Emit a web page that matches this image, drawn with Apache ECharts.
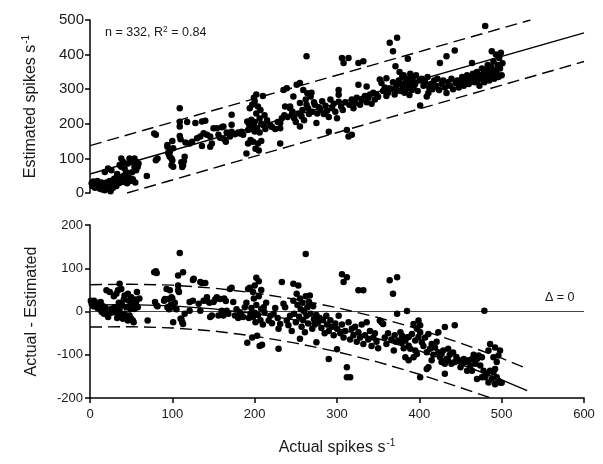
<!DOCTYPE html>
<html>
<head>
<meta charset="utf-8">
<script src="https://cdn.jsdelivr.net/npm/echarts@6/dist/echarts.min.js"></script>
<style>
html,body{margin:0;padding:0;background:#fff;}
#chart{width:603px;height:464px;}
</style>
</head>
<body>
<div id="chart"></div>
<script>
// ---- Top panel: actual vs estimated ----
var topPoints = [
[2,28],[3,20],[4,33],[5,22],[6,15],[7,30],[8,25],[9,35],[10,18],[11,28],[12,12],[13,22],[14,30],[15,10],[16,25],[18,8],[19,18],[20,30],[22,12],[23,20],[24,35],[25,5],[26,22],[27,28],[28,15],[29,40],
[18,61],[22,71],[26,66],[30,42],[31,30],[32,20],[33,55],[34,35],[35,28],[36,81],[37,45],[38,76],[38,100],[39,32],[40,90],[41,50],[42,71],[43,38],[44,60],[45,28],[46,85],[47,45],[48,100],[49,35],[50,90],[51,60],[52,40],[54,100],[54,76],[55,30],[56,90],[56,66],[58,76],[59,85],
[69,49],[78,172],[80,168],[80,95],[82,100],[94,139],[94,134],[95,116],[96,110],[97,105],[97,119],[99,100],[99,80],[101,76],[100,94],[101,129],[100,150],[109,245],[109,206],[109,192],[109,165],[110,155],[111,89],[112,85],[113,80],[115,105],[114,92],[116,146],[118,205],[112,75],
[121,143],[124,148],[128,202],[130,158],[134,163],[136,136],[136,207],[138,173],[140,209],[142,168],[146,163],[146,134],[148,143],[150,187],[154,187],[156,168],[158,160],[160,190],[162,192],[163,155],[165,148],[166,175],[170,163],[172,177],[172,197],[172,226],[176,170],[180,175],[182,172],[184,177],[186,168],
[190,114],[191,207],[192,182],[192,143],[193,200],[194,245],[194,190],[195,153],[196,185],[196,212],[197,255],[198,195],[198,148],[199,275],[200,265],[200,205],[200,178],[201,128],[202,285],[202,230],[203,188],[204,250],[204,143],[205,123],[206,215],[206,175],[207,240],[208,200],[208,150],[210,280],[211,195],[212,225],[213,185],[215,210],
[219,196],[221,191],[225,185],[228,205],[231,202],[231,187],[231,143],[233,216],[235,298],[236,225],[237,250],[239,303],[240,220],[243,245],[243,250],[245,226],[246,235],[247,279],[248,216],[250,205],
[251,313],[253,230],[255,318],[255,192],[255,260],[257,221],[258,240],[259,298],[260,210],[262,270],[263,395],[263,255],[264,288],[265,245],[266,228],[268,279],[269,290],[270,235],[272,262],[273,255],[275,202],[276,230],[278,248],[280,240],[282,265],[284,228],[286,252],[288,238],[290,177],[290,220],[292,270],[294,245],[296,258],[298,235],[300,216],[302,298],[302,284],[302,264],
[305,250],[306,390],[307,240],[308,376],[310,262],[312,182],[314,390],[314,163],[315,255],[318,168],[318,270],[320,245],[322,260],[324,275],[326,376],[326,313],[328,255],[330,268],[332,381],[334,280],[336,308],[336,262],[338,275],[340,285],[342,258],[344,290],[346,270],[348,285],[350,278],
[352,328],[354,318],[356,295],[358,305],[360,332],[360,280],[362,290],[364,303],[364,434],[366,300],[368,410],[368,320],[370,285],[371,366],[372,310],[373,449],[373,298],[375,325],[376,350],[377,295],[378,315],[379,335],[380,305],[381,340],[382,290],[383,320],[384,300],[385,330],[386,388],[387,310],[388,283],[389,345],[390,318],[391,298],[392,330],[393,305],[395,315],[396,340],[398,295],[400,325],
[401,253],[403,330],[405,310],[407,320],[409,279],[410,335],[411,289],[412,305],[414,315],[416,300],[418,325],[420,310],[422,330],[424,298],[425,376],[427,315],[429,325],[431,305],[433,289],[433,395],[435,320],[437,310],[439,330],[441,300],[443,412],[444,318],[446,325],[448,305],
[450,320],[452,335],[454,310],[456,325],[458,340],[460,315],[462,330],[464,376],[465,345],[467,320],[468,335],[470,350],[471,325],[473,310],[474,340],[476,360],[477,330],[478,345],[479,320],[480,483],[481,355],[482,335],[483,370],[484,340],[485,325],[486,350],[487,365],[488,410],[489,340],[490,380],[491,330],[492,355],[493,400],[494,345],[495,370],[496,335],[497,390],[498,360],[499,405],[500,340],[501,375]
];
var topFit = [[0,55],[600,463]];
var topUpper = [[0,137],[535,500]];
var topLower = [[45,0],[600,380]];
var topYTicks = [0,100,200,300,400,500];

// ---- Bottom panel: residuals ----
var bottomPoints = [
[1,25],[2,18],[3,22],[4,12],[5,25],[6,15],[8,20],[9,8],[10,10],[11,18],[12,5],[13,22],[14,0],[15,-2],[16,12],[17,-5],[18,2],[19,8],[20,49],[21,-8],[22,-13],[24,45],[25,-3],[26,6],[28,-2],[29,35],[30,10],[32,2],[32,41],[33,-15],[34,-9],[34,49],[35,20],[36,6],[36,64],[37,-5],[38,-13],[38,52],[39,15],[40,-17],[41,28],[42,-5],[42,37],[44,10],[45,-12],[46,-21],[46,41],[47,25],[48,-9],[49,5],[50,-17],[50,33],[51,18],[52,-21],[53,-25],[54,6],[55,28],[56,22],[57,45],[58,10],[60,30],
[70,-21],[78,91],[80,93],[81,89],[79,22],[81,14],[82,12],[90,25],[91,29],[93,52],[94,10],[95,29],[96,5],[97,49],[98,15],[99,33],[100,30],[101,-25],[101,10],[103,20],[105,5],[107,83],[107,60],[107,49],[108,45],[109,135],[110,-17],[111,-17],[112,-25],[113,91],[113,-29],[115,-5],[121,22],[121,2],[125,73],[125,25],
[126,76],[132,18],[134,68],[134,2],[136,66],[138,25],[140,66],[142,25],[142,33],[145,20],[146,-13],[148,-9],[150,22],[152,28],[154,33],[156,-9],[158,29],[160,2],[162,-9],[163,30],[165,24],[166,2],[168,-5],[170,52],[172,55],[174,22],[176,-9],[178,5],[180,-15],[182,-2],[184,-9],[186,-13],[188,10],
[190,20],[191,-72],[192,52],[193,-15],[194,55],[195,-5],[196,8],[197,-60],[198,45],[198,-12],[199,30],[200,60],[200,-3],[201,-25],[202,78],[202,15],[203,-56],[204,-8],[205,70],[205,35],[206,-80],[207,-20],[208,50],[208,5],[209,-77],[210,-30],[211,10],[212,-2],[214,20],
[217,-21],[219,-10],[221,-27],[223,-5],[225,8],[228,-15],[229,-40],[229,-86],[231,-29],[233,68],[235,18],[237,10],[239,-21],[241,-32],[243,-10],[245,-45],[247,64],[247,25],[248,-5],[250,-25],
[251,41],[252,15],[253,60],[254,-12],[255,-63],[255,30],[256,5],[257,-35],[258,20],[259,-20],[260,0],[261,-48],[262,133],[262,35],[263,-10],[264,10],[265,-28],[266,22],[267,37],[268,-5],[270,-40],[271,12],[272,-18],[273,-30],[275,-71],[275,-8],[277,-25],[279,-15],[281,-38],[283,-20],[285,-50],[287,-10],[288,-30],[290,-110],[290,-45],[292,-20],[294,-35],[296,-55],[298,-28],[300,-87],[300,-40],
[302,-10],[304,-50],[306,86],[306,-30],[308,68],[308,-60],[310,-45],[312,79],[312,-129],[312,-152],[314,-25],[316,-152],[316,-65],[318,-40],[320,-55],[322,-35],[324,-70],[326,49],[326,-48],[328,-60],[330,-30],[332,49],[332,-75],[334,-55],[336,-25],[338,-65],[340,-45],[342,-80],[344,-60],[346,-50],[348,-70],[350,-85],
[352,-21],[354,-25],[356,-29],[358,-60],[360,-75],[362,-50],[364,72],[366,-65],[368,41],[369,-90],[370,-55],[372,-70],[373,79],[373,-5],[375,-67],[377,-48],[379,-56],[379,-71],[381,-85],[383,-67],[383,-106],[385,1],[385,-60],[387,-59],[387,-79],[387,-113],[389,-86],[391,-52],[393,-29],[393,-106],[395,-67],[395,-90],[397,-40],[397,-98],[399,-21],[399,-59],[401,-32],[401,-48],[401,-152],
[403,-71],[405,-80],[407,-60],[409,-94],[409,-133],[411,-52],[411,-129],[413,-86],[415,-75],[415,-113],[417,-100],[419,-83],[421,-70],[423,-48],[423,-94],[425,-105],[427,-98],[427,-117],[429,-90],[431,-36],[431,-121],[431,-144],[433,-110],[435,-86],[435,-113],[437,-100],[439,-121],[441,-95],[443,-32],[443,-117],[445,-105],[448,-113],[450,-129],
[452,-120],[454,-110],[456,-117],[458,-137],[460,-113],[462,-125],[464,-137],[464,-110],[466,-100],[468,-121],[470,-110],[470,-156],[472,-102],[474,-125],[476,-106],[476,-152],[478,-137],[479,2],[480,-152],[482,-144],[484,-90],[484,-164],[486,-75],[486,-137],[488,-156],[490,-106],[490,-141],[492,-83],[492,-133],[492,-168],[494,-117],[494,-152],[496,-102],[496,-160],[498,-90],[498,-164],[500,-165]
];
var bottomFit = [[0,15],[50,16],[100,13],[150,6],[200,-5],[250,-20],[300,-40],[350,-63],[400,-91],[450,-122],[500,-158],[531,-183]];
var bottomUpper = [[0,62],[50,63],[100,61],[150,54],[200,43],[250,28],[300,9],[350,-14],[400,-41],[450,-73],[500,-108],[531,-132]];
var bottomLower = [[0,-36],[50,-35],[100,-38],[150,-45],[200,-57],[250,-73],[300,-93],[350,-117],[400,-145],[450,-176],[487,-200]];
var zeroLine = [[0,0],[600,0]];
var xTicks = [0,100,200,300,400,500,600];
var bottomYTicks = [-200,-100,0,100,200];

var FONT = 'Liberation Sans, Arial, sans-serif';
var TXT = '#1a1a1a';

var chart = echarts.init(document.getElementById('chart'), null, {renderer:'canvas'});

function lineSeries(data, xi, dashed, color, width) {
  return {
    type: 'line', xAxisIndex: xi, yAxisIndex: xi, data: data,
    symbol: 'none', silent: true, z: 3,
    lineStyle: {color: color || '#000', width: width || 1.4, type: dashed ? [12, 6] : 'solid'}
  };
}

var supStyle = {fontSize: 10, fontFamily: FONT, color: TXT, verticalAlign: 'top', padding: [0,0,9,1]};

var option = {
  animation: false,
  backgroundColor: '#fff',
  grid: [
    {left: 90, top: 20, width: 494, height: 173},
    {left: 90, top: 225, width: 494, height: 173}
  ],
  xAxis: [
    {gridIndex: 0, type: 'value', min: xTicks[0], max: xTicks[xTicks.length-1], interval: 100, show: false},
    {gridIndex: 1, type: 'value', min: xTicks[0], max: xTicks[xTicks.length-1], interval: 100,
     axisLine: {show: true, onZero: false, lineStyle: {color: '#000', width: 1.5}},
     axisTick: {show: true, length: 5, lineStyle: {color: '#000', width: 1.5}},
     axisLabel: {color: TXT, fontSize: 13, fontFamily: FONT, margin: 10},
     splitLine: {show: false},
     name: 'Actual spikes s{sup|-1}', nameLocation: 'middle', nameGap: 40,
     nameTextStyle: {color: TXT, fontSize: 16, fontFamily: FONT, rich: {sup: supStyle}}
    }
  ],
  yAxis: [
    {gridIndex: 0, type: 'value', min: topYTicks[0], max: topYTicks[topYTicks.length-1], interval: 100,
     axisLine: {show: true, lineStyle: {color: '#000', width: 1.5}},
     axisTick: {show: true, length: 5, lineStyle: {color: '#000', width: 1.5}},
     axisLabel: {color: TXT, fontSize: 15, fontFamily: FONT, margin: 6},
     splitLine: {show: false},
     name: 'Estimated spikes s{sup|-1}', nameLocation: 'middle', nameGap: 50,
     nameTextStyle: {color: TXT, fontSize: 16, fontFamily: FONT, rich: {sup: supStyle}}
    },
    {gridIndex: 1, type: 'value', min: bottomYTicks[0], max: bottomYTicks[bottomYTicks.length-1], interval: 100,
     axisLine: {show: true, onZero: false, lineStyle: {color: '#000', width: 1.5}},
     axisTick: {show: true, length: 5, lineStyle: {color: '#000', width: 1.5}},
     axisLabel: {color: TXT, fontSize: 13, fontFamily: FONT, margin: 7},
     splitLine: {show: false},
     name: 'Actual - Estimated', nameLocation: 'middle', nameGap: 50,
     nameTextStyle: {color: TXT, fontSize: 16, fontFamily: FONT}
    }
  ],
  graphic: [
    {type: 'text', left: 105, top: 25, z: 10,
     style: {text: 'n = 332, R{sup|2} = 0.84', fill: TXT, font: '12.5px ' + FONT,
       rich: {sup: {fontSize: 8.5, fontFamily: FONT, fill: TXT, verticalAlign: 'top', padding: [0,0,7,0]}}}},
    {type: 'text', left: 545, top: 291, z: 10,
     style: {text: '\u0394 = 0', fill: TXT, font: '12.5px ' + FONT}}
  ],
  series: [
    lineSeries(topFit, 0, false),
    lineSeries(topUpper, 0, true),
    lineSeries(topLower, 0, true),
    {type: 'scatter', xAxisIndex: 0, yAxisIndex: 0, data: topPoints, symbol: 'circle', symbolSize: 6.5,
     itemStyle: {color: '#000', opacity: 1}, z: 4},
    lineSeries(zeroLine, 1, false, '#444', 1.2),
    lineSeries(bottomFit, 1, false),
    lineSeries(bottomUpper, 1, true),
    lineSeries(bottomLower, 1, true),
    {type: 'scatter', xAxisIndex: 1, yAxisIndex: 1, data: bottomPoints, symbol: 'circle', symbolSize: 6.5,
     itemStyle: {color: '#000', opacity: 1}, z: 4}
  ]
};
chart.setOption(option);
</script>
</body>
</html>
